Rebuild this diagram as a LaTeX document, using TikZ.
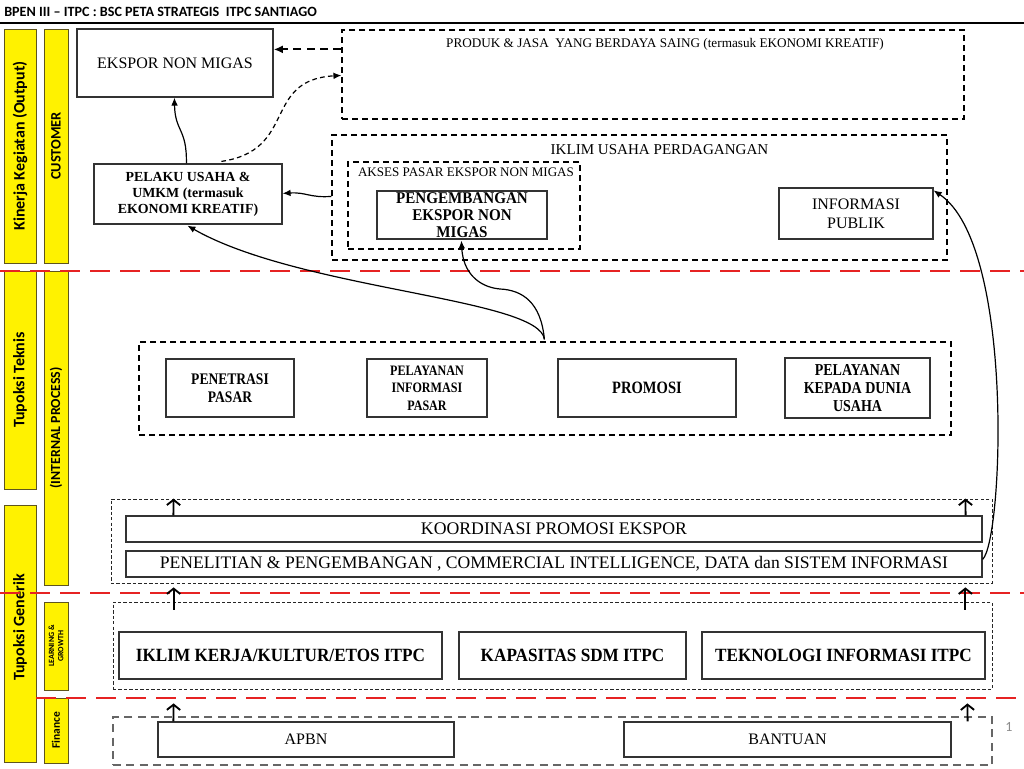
\documentclass[tikz,border=0pt]{standalone}
\usepackage{fontspec}
\setmainfont{Liberation Serif}
\newfontfamily\carl{Carlito}
\newfontfamily\cond[FakeStretch=0.84]{Liberation Serif}
\newfontfamily\condb[FakeStretch=0.92]{Liberation Serif}
\usetikzlibrary{arrows.meta,calc}
\definecolor{ybord}{RGB}{95,85,30}
\definecolor{redd}{RGB}{230,35,35}
\begin{document}
\begin{tikzpicture}[x=0.75pt,y=-0.75pt,
  rc/.style n args={4}{at={({(#1+#3)/2},{(#2+#4)/2})}, minimum width={(#3-#1)*0.75pt}, minimum height={(#4-#2)*0.75pt}},
  box/.style={draw=black!80, line width=0.9pt, inner sep=0pt, align=center},
  dbox/.style={draw=black, line width=0.9pt, dash pattern=on 4.5pt off 3pt, inner sep=0pt},
  fbox/.style={draw=black!85, line width=0.6pt, dash pattern=on 2.5pt off 1.6pt, inner sep=0pt},
  gbox/.style={draw=black!60, line width=0.9pt, dash pattern=on 6pt off 4pt, inner sep=0pt},
  ybar/.style={draw=ybord, fill=yellow, line width=0.7pt, inner sep=0pt},
  ylab/.style={rotate=90, font=\carl\bfseries, inner sep=0pt, align=center},
  redline/.style={draw=redd, line width=1.9pt, dash pattern=on 15pt off 7.5pt},
  upar/.style={-{Straight Barb[length=4pt,width=10pt,line width=1.4pt]}, line width=1.4pt},
  carr/.style={-{Latex[length=6pt,width=5pt]}, line width=0.9pt},
  txt/.style={inner sep=0pt, align=center},
]
\useasboundingbox (0,0) rectangle (1024,768);
\fill[white] (0,0) rectangle (1024,768);

% header
\node[anchor=west, txt, font=\carl\bfseries\fontsize{10.6pt}{12pt}\selectfont] (title) at (4,12) {BPEN III – ITPC : BSC PETA STRATEGIS\ \ ITPC SANTIAGO};
\draw[line width=1.9pt] (0,23) -- (1024,23);

% yellow bars
\node[ybar, rc={4}{29}{36}{263}] (b1a) {};
\node[ylab, font=\carl\bfseries\fontsize{12pt}{14pt}\selectfont] (b1at) at (b1a.center) {Kinerja Kegiatan (Output)};
\node[ybar, rc={44}{29}{68}{263}] (b2a) {};
\node[ylab, font=\carl\bfseries\fontsize{10.8pt}{12pt}\selectfont] (b2at) at (b2a.center) {CUSTOMER};
\node[ybar, rc={4}{271}{36}{489}] (b1b) {};
\node[ylab, font=\carl\bfseries\fontsize{12pt}{14pt}\selectfont] (b1bt) at (b1b.center) {Tupoksi Teknis};
\node[ybar, rc={44}{271}{68}{585}] (b2b) {};
\node[ylab, font=\carl\bfseries\fontsize{10.4pt}{12pt}\selectfont] (b2bt) at (b2b.center) {(INTERNAL PROCESS)};
\node[ybar, rc={4}{505}{36}{762}] (b1c) {};
\node[ylab, font=\carl\bfseries\fontsize{12pt}{14pt}\selectfont] (b1ct) at ($(b1c.center)+(0,-6)$) {Tupoksi Generik};
\node[ybar, rc={44}{602}{68}{690}] (b2c) {};
\node[ylab, font=\carl\bfseries\fontsize{6pt}{7pt}\selectfont] (b2ct) at (b2c.center) {LEARNING \&\\GROWTH};
\node[ybar, rc={44}{698}{68}{763}] (b2d) {};
\node[ylab, font=\carl\bfseries\fontsize{8.6pt}{10pt}\selectfont] (b2dt) at (b2d.center) {Finance};

% red separators
\draw[redline] (0,271) -- (1024,271);
\draw[redline] (0,593) -- (1024,593);
\draw[redline] (36,698) -- (1024,698);

% customer area
\node[box, rc={77}{29}{273}{97}, font=\fontsize{12pt}{14pt}\selectfont] (ekspor) {EKSPOR NON MIGAS};
\node[dbox, rc={342}{30}{964}{119}] (produk) {};
\node[txt, anchor=north, font=\fontsize{9.9pt}{11pt}\selectfont] (produkt) at ($(produk.north)+(12,9)$) {PRODUK \& JASA\ \ YANG BERDAYA SAING (termasuk EKONOMI KREATIF)};
\node[box, rc={94}{164}{282}{224}, font=\bfseries\fontsize{10.4pt}{12pt}\selectfont] (pelaku) {PELAKU USAHA \&\\UMKM (termasuk\\EKONOMI KREATIF)};
\node[dbox, rc={332}{135}{947}{260}] (iklim) {};
\node[txt, anchor=north, font=\fontsize{11.3pt}{13pt}\selectfont] (iklimt) at ($(iklim.north)+(20,10)$) {IKLIM USAHA PERDAGANGAN};
\node[dbox, rc={348}{162}{580}{249}] (akses) {};
\node[txt, anchor=north, font=\fontsize{9.8pt}{11pt}\selectfont] (aksest) at ($(akses.north)+(2,6)$) {AKSES PASAR EKSPOR NON MIGAS};
\node[box, rc={377}{191}{547}{239}, font=\condb\bfseries\fontsize{12.3pt}{12.6pt}\selectfont] (pengemb) {PENGEMBANGAN\\EKSPOR NON\\MIGAS};
\node[box, rc={779}{188}{933}{239}, font=\fontsize{12pt}{14.2pt}\selectfont] (infopub) {INFORMASI\\PUBLIK};

% internal process
\node[dbox, rc={139}{342}{951}{435}] (proc) {};
\node[box, rc={166}{359}{294}{417}, font=\cond\bfseries\fontsize{12.1pt}{13.5pt}\selectfont] (penetrasi) {PENETRASI\\PASAR};
\node[box, rc={367}{359}{487}{417}, font=\cond\bfseries\fontsize{10.8pt}{13.2pt}\selectfont] (pelinfo) {PELAYANAN\\INFORMASI\\PASAR};
\node[box, rc={558}{359}{736}{417}, font=\cond\bfseries\fontsize{13pt}{14pt}\selectfont] (promosi) {PROMOSI};
\node[box, rc={785}{358}{930}{418}, font=\cond\bfseries\fontsize{12.5pt}{13.2pt}\selectfont] (pelkep) {PELAYANAN\\KEPADA DUNIA\\USAHA};

\node[fbox, rc={111}{499}{992}{583}] (generik) {};
\node[box, rc={126}{516}{982}{542}, font=\fontsize{13.3pt}{15pt}\selectfont] (koord) {KOORDINASI PROMOSI EKSPOR};
\node[box, rc={126}{551}{982}{577}, font=\fontsize{13.2pt}{15pt}\selectfont] (penel) {PENELITIAN \& PENGEMBANGAN , COMMERCIAL INTELLIGENCE, DATA dan SISTEM INFORMASI};

% learning & growth
\node[fbox, rc={113}{602}{992}{689}] (lg) {};
\node[box, rc={119}{632}{442}{679}, font=\condb\bfseries\fontsize{14pt}{15pt}\selectfont] (kerja) {IKLIM KERJA/KULTUR/ETOS ITPC};
\node[box, rc={459}{632}{686}{679}, font=\condb\bfseries\fontsize{14pt}{15pt}\selectfont] (sdm) {KAPASITAS SDM ITPC};
\node[box, rc={702}{632}{985}{679}, font=\condb\bfseries\fontsize{14pt}{15pt}\selectfont] (tekno) {TEKNOLOGI INFORMASI ITPC};

% finance
\node[gbox, rc={113}{717}{992}{765}] (fin) {};
\node[box, rc={158}{722}{454}{757}, font=\fontsize{12pt}{14pt}\selectfont] (apbn) {APBN};
\node[box, rc={624}{722}{951}{757}, font=\fontsize{12pt}{14pt}\selectfont] (bantuan) {BANTUAN};

\node[txt, text=black!45, font=\carl\fontsize{10.5pt}{12pt}\selectfont] (pagenum) at (1009,727) {1};

% connectors, customer area
\draw[-{Latex[length=7pt,width=6pt]}, line width=1.6pt, dash pattern=on 6pt off 4pt]
  ($(produk.north west)+(0,20)$) -- ($(ekspor.north east)+(0,21)$);
\draw[carr, dash pattern=on 3.5pt off 2.5pt]
  ($(pelaku.north west)+(128,-2)$) .. controls (298,150) and (262,80) .. ($(produk.north west)+(0,46)$);
\draw[carr] ($(pelaku.north west)+(93,0)$) .. controls (187,128) and (175,132) .. ($(ekspor.south west)+(98,0)$);
\draw[carr] ($(iklim.north west)+(0,62)$) .. controls (310,198) and (306,192) .. ($(pelaku.north east)+(0,30)$);

% from internal process up
\coordinate (ptop) at ($(proc.north west)+(406,-2)$);
\draw[carr] (ptop) .. controls (540,298) and (300,290) .. ($(pelaku.south west)+(94,1)$);
\draw[carr] (ptop) .. controls (541,302) and (522,290) .. (500,289) .. controls (478,287) and (463,272) .. ($(pengemb.south west)+(85,1)$);

% long arrow to informasi publik
\draw[carr] ($(penel.north east)+(0,9)$) .. controls (1003,540) and (1015,245) .. ($(infopub.north east)+(0,3)$);

% vertical small arrows
\draw[upar] ($(koord.north west)+(48,0)$) -- ($(generik.north west)+(63,0)$);
\draw[upar] ($(koord.north east)+(-17,0)$) -- ($(generik.north east)+(-27,0)$);
\draw[upar] ($(lg.north west)+(61,8)$) -- ($(generik.south west)+(63,4)$);
\draw[upar] ($(lg.north east)+(-27,8)$) -- ($(generik.south east)+(-27,4)$);
\draw[upar] ($(apbn.north west)+(16,0)$) -- ($(lg.south west)+(61,14)$);
\draw[upar] ($(fin.north east)+(-25,5)$) -- ($(lg.south east)+(-25,14)$);
\end{tikzpicture}
\end{document}
